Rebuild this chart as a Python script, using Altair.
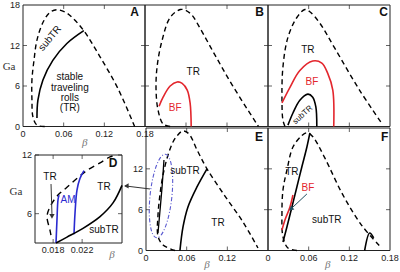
import altair as alt
import pandas as pd

# ---------------- data ----------------
A_dash_b = [0.032, 0.0206, 0.0147, 0.0132, 0.0132, 0.0162, 0.0206, 0.0294, 0.0397, 0.05, 0.0632, 0.075, 0.0897, 0.1132, 0.1397, 0.1647]
A_dash_g = [0.0, 0.2, 1.4, 3.9, 6.9, 9.8, 12.8, 15.4, 16.9, 17.3, 16.9, 15.9, 14.2, 10.4, 5.7, 0.0]
A_solid_b = [0.0206, 0.022, 0.0294, 0.044, 0.0647, 0.0897]
A_solid_g = [1.25, 3.9, 6.9, 9.8, 12.3, 14.2]

B_dash_b = [0.0368, 0.0265, 0.0191, 0.0162, 0.0176, 0.025, 0.0368, 0.0515, 0.0603, 0.0691, 0.0809, 0.1029, 0.1279, 0.166]
B_dash_g = [0.0, 0.37, 2.43, 5.38, 8.78, 12.76, 16.15, 17.33, 17.18, 16.45, 14.5, 10.5, 6.1, 0.0]
B_red_b = [0.0206, 0.0265, 0.0368, 0.047, 0.0544, 0.0618, 0.066, 0.0676]
B_red_g = [3.0, 4.35, 6.0, 6.6, 6.4, 5.4, 3.5, 0.0]

C_dash_b = [0.025, 0.022, 0.0206, 0.022, 0.0294, 0.0426, 0.0544, 0.0618, 0.0765, 0.0985, 0.135, 0.1676]
C_dash_g = [0.0, 0.96, 3.9, 8.78, 13.2, 16.15, 17.33, 17.0, 15.3, 11.6, 5.4, 0.5]
C_red_b = [0.0206, 0.0324, 0.047, 0.066, 0.0794, 0.088, 0.0956, 0.097]
C_red_g = [3.5, 5.8, 8.3, 9.7, 9.4, 7.9, 5.4, 0.0]
C_black_b = [0.0294, 0.0368, 0.047, 0.0588, 0.066, 0.0706, 0.072]
C_black_g = [0.2, 2.0, 3.9, 4.8, 4.35, 2.9, 0.0]

D_dash_b = [0.0177, 0.01757, 0.01716, 0.01757, 0.01867, 0.01991, 0.02143, 0.02281, 0.02447, 0.02584, 0.02667]
D_dash_g = [3.8, 4.3, 5.7, 6.7, 7.9, 8.7, 9.7, 10.5, 11.2, 11.8, 12.0]
D_blue1_b = [0.0184, 0.01853, 0.01867, 0.01881]
D_blue1_g = [3.0, 5.35, 7.4, 7.9]
D_blue2_b = [0.02088, 0.02102, 0.02129, 0.0217, 0.02226]
D_blue2_g = [3.9, 6.07, 8.4, 9.6, 10.4]
D_black_b = [0.0184, 0.01991, 0.02212, 0.02447, 0.02626, 0.0275]
D_black_g = [3.0, 3.6, 4.5, 5.7, 7.1, 8.9]
D_arrow_b = [0.01771, 0.01784]
D_arrow_g = [9.03, 5.97]

E_dash_b = [0.0428, 0.0251, 0.0177, 0.0177, 0.0206, 0.0251, 0.0324, 0.0398, 0.0457, 0.0546, 0.0634, 0.0752, 0.09, 0.1165, 0.143, 0.1652]
E_dash_g = [0.0, 0.8, 2.1, 5.2, 8.2, 11.1, 14.0, 15.95, 16.84, 17.57, 17.13, 14.8, 12.0, 8.0, 4.2, 0.37]
E_thin_b = [0.0177, 0.0206, 0.0236, 0.0265]
E_thin_g = [2.57, 5.8, 9.2, 13.3]
E_solid_b = [0.0501, 0.0546, 0.0619, 0.0752, 0.09]
E_solid_g = [0.0, 3.46, 6.4, 9.34, 12.0]
E_ellipse_b = [0.0221]
E_ellipse_g = [8.0]
E_arrow_b = [0.0059, -0.031]
E_arrow_g = [9.04, 9.49]

F_dash_b = [0.0426, 0.0294, 0.0221, 0.0206, 0.0221, 0.0279, 0.0368, 0.05, 0.0574, 0.0662, 0.0838, 0.1103, 0.1382, 0.1676]
F_dash_g = [0.0, 0.37, 2.0, 5.5, 8.9, 11.8, 15.2, 16.9, 17.3, 16.7, 13.6, 8.2, 3.7, 0.37]
F_black_b = [0.0221, 0.0279, 0.0353, 0.0426, 0.05, 0.0574, 0.0618]
F_black_g = [1.25, 3.46, 6.4, 9.34, 12.3, 15.2, 17.27]
F_red_b = [0.0206, 0.025, 0.0324, 0.0368]
F_red_g = [3.01, 4.49, 6.4, 8.16]
F_small_b = [0.1426, 0.15, 0.1559]
F_small_g = [0.0, 2.57, 1.84]
F_arrow_b = [0.0574, 0.0338]
F_arrow_g = [8.31, 6.1]

# annotations: (panel, text, beta, Ga, kind)
ANNOT = [
    ("A", "subTR", 0.0397, 13.05, "rot310"),
    ("A", "stable", 0.0691, 7.3, "txt"),
    ("A", "traveling", 0.0691, 5.68, "txt"),
    ("A", "rolls", 0.0691, 4.2, "txt"),
    ("A", "(TR)", 0.0691, 2.73, "txt"),
    ("A", "A", 0.1647, 16.9, "letter"),
    ("B", "TR", 0.0706, 8.04, "txt"),
    ("B", "BF", 0.0441, 2.73, "red"),
    ("B", "B", 0.1676, 16.9, "letter"),
    ("C", "TR", 0.0588, 11.4, "txt"),
    ("C", "BF", 0.0647, 6.56, "red"),
    ("C", "subTR", 0.0515, 1.7, "rot318"),
    ("C", "C", 0.1706, 16.9, "letter"),
    ("D", "TR", 0.01757, 9.75, "txt"),
    ("D", "AM", 0.02005, 7.4, "blue"),
    ("D", "TR", 0.02502, 8.73, "txt"),
    ("D", "subTR", 0.02502, 4.33, "txt"),
    ("D", "D", 0.02626, 11.18, "letter"),
    ("E", "subTR", 0.0575, 11.7, "txt"),
    ("E", "TR", 0.1062, 4.0, "txt"),
    ("E", "E", 0.1667, 16.7, "letter"),
    ("F", "TR", 0.0353, 11.5, "txt"),
    ("F", "BF", 0.0588, 9.2, "red"),
    ("F", "subTR", 0.0868, 4.5, "txt"),
    ("F", "F", 0.172, 16.7, "letter"),
]
# axis titles (panel, text, beta, Ga, kind)
TITLES = [
    ("A", "Ga", -0.0206, 8.78, "ga"),
    ("A", "β", 0.0912, -2.43, "beta"),
    ("D", "Ga", 0.01288, 8.21, "ga"),
    ("D", "β", 0.02612, 1.77, "beta"),
    ("E", "β", 0.09, -2.13, "beta"),
    ("F", "β", 0.0882, -2.13, "beta"),
]
# ticks and labels per panel
TICKS = {
    "A": dict(x=[0.06, 0.12], y=[6, 12], xl=[0, 0.06, 0.12, 0.18], yl=[0, 6, 12, 18]),
    "B": dict(x=[0.06, 0.12], y=[6, 12], xl=[], yl=[]),
    "C": dict(x=[0.06, 0.12], y=[6, 12], xl=[], yl=[]),
    "D": dict(x=[0.018, 0.022], y=[6, 12], xl=[0.018, 0.022], yl=[6, 12]),
    "E": dict(x=[0.06, 0.12], y=[6, 12], xl=[0, 0.06, 0.12], yl=[0, 6, 12]),
    "F": dict(x=[0.06, 0.12], y=[6, 12], xl=[0, 0.06, 0.12, 0.18], yl=[]),
}

# ---------------- panel scales ----------------
PANELS = {
    "A": dict(xd=[0, 0.18], xr=[23, 145], yd=[0, 18], yr=[126.5, 5]),
    "B": dict(xd=[0, 0.18], xr=[145, 268], yd=[0, 18], yr=[126.5, 5]),
    "C": dict(xd=[0, 0.18], xr=[268, 390], yd=[0, 18], yr=[126.5, 5]),
    "D": dict(xd=[0.0155, 0.0275], xr=[35, 122], yd=[3, 12], yr=[243, 155]),
    "E": dict(xd=[0, 0.18], xr=[146, 268], yd=[0, 18], yr=[250.5, 128]),
    "F": dict(xd=[0, 0.18], xr=[268, 390], yd=[0, 18], yr=[250.5, 128]),
}

SANS = "Liberation Sans"
SERIF = "Liberation Serif"
RED = "#e3262d"
BLUE = "#2a2ad0"


def enc(p):
    P = PANELS[p]
    xs = alt.Scale(domain=P["xd"], range=P["xr"], nice=False, zero=False)
    ys = alt.Scale(domain=P["yd"], range=P["yr"], nice=False, zero=False)
    return dict(x=alt.X("b:Q", scale=xs, axis=None), y=alt.Y("g:Q", scale=ys, axis=None))


layers = []

# frames
for p, P in PANELS.items():
    df = pd.DataFrame({"b": [P["xd"][0]], "b2": [P["xd"][1]], "g": [P["yd"][0]], "g2": [P["yd"][1]]})
    e = enc(p)
    layers.append(alt.Chart(df).mark_rect(fillOpacity=0, stroke="#222", strokeWidth=1).encode(
        x=e["x"], x2="b2:Q", y=e["y"], y2="g2:Q"))

# ticks + tick labels
for p, T in TICKS.items():
    P = PANELS[p]
    e = enc(p)
    for gval, off in ((P["yd"][0], -2), (P["yd"][1], 2)):
        df = pd.DataFrame({"b": T["x"], "g": [gval] * len(T["x"])})
        layers.append(alt.Chart(df).mark_tick(orient="vertical", size=4, thickness=1, color="#222",
                                              yOffset=off).encode(**e))
    for bval, off in ((P["xd"][0], 2), (P["xd"][1], -2)):
        df = pd.DataFrame({"b": [bval] * len(T["y"]), "g": T["y"]})
        layers.append(alt.Chart(df).mark_tick(orient="horizontal", size=4, thickness=1, color="#222",
                                              xOffset=off).encode(**e))
    if T["xl"]:
        df = pd.DataFrame({"b": T["xl"], "g": [P["yd"][0]] * len(T["xl"]),
                           "t": [("%g" % v) for v in T["xl"]]})
        layers.append(alt.Chart(df).mark_text(font=SANS, fontSize=9, color="#222", baseline="middle",
                                              align="center", dy=7).encode(text="t:N", **e))
    if T["yl"]:
        df = pd.DataFrame({"b": [P["xd"][0]] * len(T["yl"]), "g": T["yl"],
                           "t": [("%g" % v) for v in T["yl"]]})
        layers.append(alt.Chart(df).mark_text(font=SANS, fontSize=9, color="#222", baseline="middle",
                                              align="right", dx=-3).encode(text="t:N", **e))


def line(p, b, g, color, width, dash=None):
    df = pd.DataFrame({"b": b, "g": g, "i": list(range(len(b)))})
    kw = dict(color=color, strokeWidth=width, interpolate="catmull-rom")
    if dash:
        kw["strokeDash"] = dash
    return alt.Chart(df).mark_line(**kw).encode(order="i:Q", **enc(p))


DASH = [5, 3.5]
layers += [
    line("A", A_dash_b, A_dash_g, "black", 1.4, DASH),
    line("A", A_solid_b, A_solid_g, "black", 1.6),
    line("B", B_dash_b, B_dash_g, "black", 1.4, DASH),
    line("B", B_red_b, B_red_g, RED, 1.6),
    line("C", C_dash_b, C_dash_g, "black", 1.4, DASH),
    line("C", C_red_b, C_red_g, RED, 1.6),
    line("C", C_black_b, C_black_g, "black", 1.6),
    line("D", D_dash_b, D_dash_g, "black", 1.4, [6, 4.5]),
    line("D", D_blue1_b, D_blue1_g, BLUE, 1.6),
    line("D", D_blue2_b, D_blue2_g, BLUE, 1.6),
    line("D", D_black_b, D_black_g, "black", 1.6),
    line("D", D_arrow_b, D_arrow_g, "#333", 1.0),
    line("E", E_dash_b, E_dash_g, "black", 1.4, DASH),
    line("E", E_thin_b, E_thin_g, "black", 1.3),
    line("E", E_solid_b, E_solid_g, "black", 1.6),
    line("E", E_arrow_b, E_arrow_g, "#333", 1.0),
    line("F", F_dash_b, F_dash_g, "black", 1.4, DASH),
    line("F", F_black_b, F_black_g, "black", 1.6),
    line("F", F_red_b, F_red_g, RED, 1.6),
    line("F", F_small_b, F_small_g, "black", 1.6),
    line("F", F_arrow_b, F_arrow_g, "#1f4e5f", 1.0),
]

# ellipse (dash-dot) in panel E
ELL = ("M0,-1C0.1436,-1 0.26,-0.5523 0.26,0C0.26,0.5523 0.1436,1 0,1"
       "C-0.1436,1 -0.26,0.5523 -0.26,0C-0.26,-0.5523 -0.1436,-1 0,-1Z")
layers.append(alt.Chart(pd.DataFrame({"b": E_ellipse_b, "g": E_ellipse_g})).mark_point(
    shape=ELL, size=7050, filled=False, stroke="#5a5ad0", strokeWidth=1.1, strokeDash=[4, 2, 1, 2],
    angle=6, opacity=1).encode(**enc("E")))


def head(p, b, g, shape, color, angle=0):
    return alt.Chart(pd.DataFrame({"b": [b], "g": [g]})).mark_point(
        shape=shape, size=28, filled=True, color=color, opacity=1, angle=angle).encode(**enc(p))


layers += [
    head("D", D_arrow_b[1], D_arrow_g[1] - 0.25, "triangle-down", "#333"),
    head("E", E_arrow_b[1] + 0.002, E_arrow_g[1], "triangle-left", "#333"),
    head("F", F_arrow_b[1], F_arrow_g[1], "triangle-up", "#1f4e5f", 229),
]

# annotations
STY = {
    "txt": dict(font=SANS, fontSize=10, color="#111"),
    "red": dict(font=SANS, fontSize=10, color=RED),
    "blue": dict(font=SANS, fontSize=10, color=BLUE),
    "letter": dict(font=SANS, fontSize=12, fontWeight="bold", color="#111"),
    "rot310": dict(font=SANS, fontSize=10, color="#111", angle=310),
    "rot318": dict(font=SANS, fontSize=8, color="#111", angle=318),
    "ga": dict(font=SERIF, fontSize=11, color="#333"),
    "beta": dict(font=SERIF, fontSize=11, fontStyle="italic", color="#777"),
}
for p, t, b, g, kind in ANNOT + TITLES:
    df = pd.DataFrame({"b": [b], "g": [g], "t": [t]})
    layers.append(alt.Chart(df).mark_text(align="center", baseline="middle", **STY[kind]).encode(
        text="t:N", **enc(p)))

chart = alt.layer(*layers).resolve_scale(x="independent", y="independent").properties(
    width=400, height=272, padding=0, autosize="none").configure_view(stroke=None)

chart.save("out.html", embed_options={"renderer": "svg", "actions": False})
